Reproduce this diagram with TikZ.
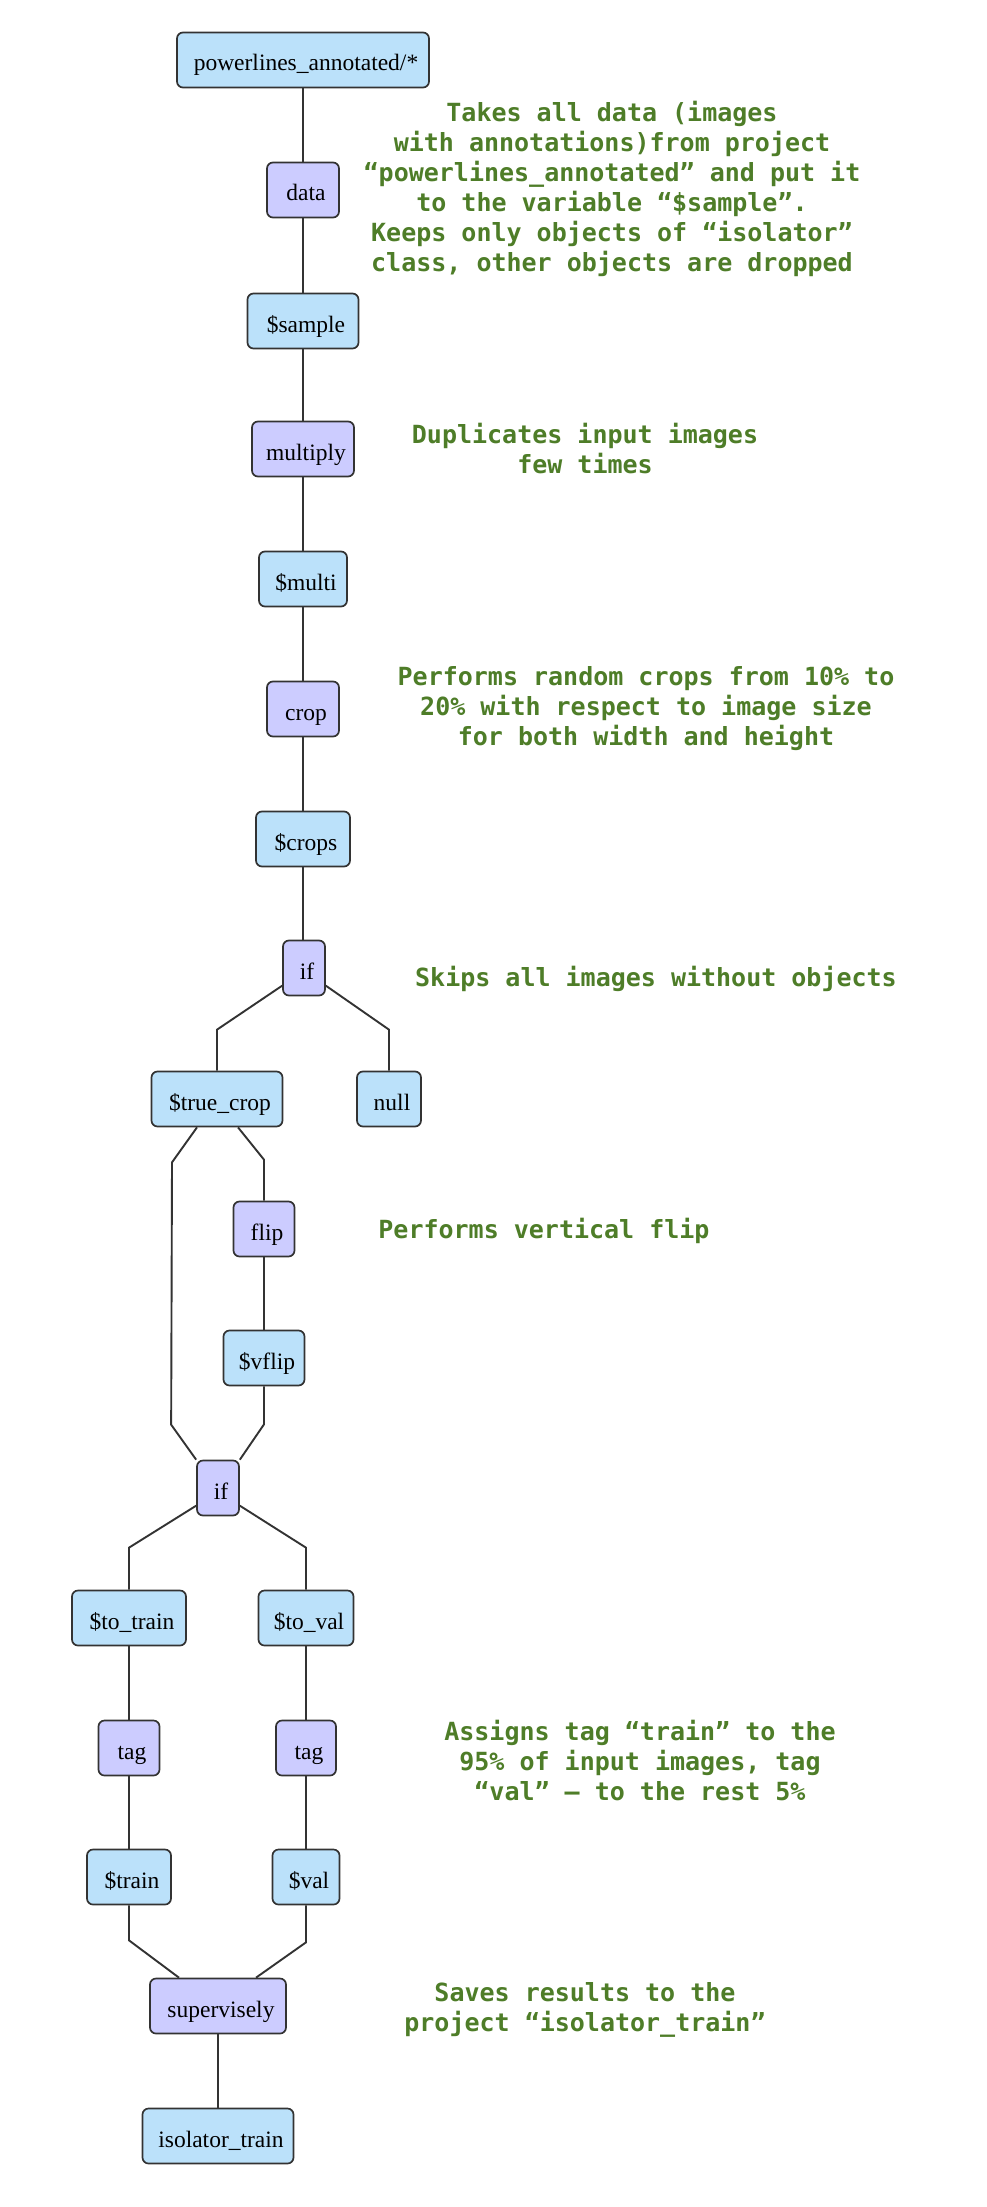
\documentclass[tikz,border=0pt]{standalone}
\usepackage{fontspec}
\setmainfont{Liberation Serif}
\newfontfamily\monob{DejaVu Sans Mono}[BoldFont=* Bold]
\usetikzlibrary{calc}
\definecolor{bluefill}{HTML}{BBE1FA}
\definecolor{purplefill}{HTML}{CCCCFF}
\definecolor{edgecol}{HTML}{333333}
\definecolor{notegreen}{HTML}{4E7D28}
\tikzset{
  base/.style={draw=edgecol, line width=1.7pt, rounded corners=6pt, minimum height=55pt,
    inner xsep=0pt, inner ysep=0pt, text height=24pt, text depth=2pt,
    font=\fontsize{23.5}{28}\selectfont, text=black,
    execute at begin node={\hspace*{6pt}}},
  var/.style={base, fill=bluefill},
  op/.style={base, fill=purplefill},
  note/.style={align=center, text=notegreen, font=\monob\bfseries\fontsize{25}{30}\selectfont},
  conn/.style={draw=edgecol, line width=1.9pt}
}
\begin{document}
\begin{tikzpicture}[x=1pt, y=-1pt]
\useasboundingbox (0,0) rectangle (986,2207);
% nodes
\node[var, minimum width=252pt] (src) at (303,60) {powerlines\_annotated/*};
\node[op, minimum width=72pt] (data) at (303,190) {data};
\node[var, minimum width=111pt] (sample) at (303,321) {\$sample};
\node[op, minimum width=102pt] (multiply) at (303,449) {multiply};
\node[var, minimum width=88pt] (multi) at (303,579) {\$multi};
\node[op, minimum width=72pt] (crop) at (303,709) {crop};
\node[var, minimum width=94pt] (crops) at (303,839) {\$crops};
\node[op, minimum width=42pt] (ifa) at (304,968) {if};
\node[var, minimum width=131pt] (truecrop) at (217,1099) {\$true\_crop};
\node[var, minimum width=64pt] (null) at (389,1099) {null};
\node[op, minimum width=61pt] (flip) at (264,1229) {flip};
\node[var, minimum width=81pt] (vflip) at (264,1358) {\$vflip};
\node[op, minimum width=42pt] (ifb) at (218,1488) {if};
\node[var, minimum width=114pt] (totrain) at (129,1618) {\$to\_train};
\node[var, minimum width=95pt] (toval) at (306,1618) {\$to\_val};
\node[op, minimum width=61pt] (tagA) at (129,1748) {tag};
\node[op, minimum width=60pt] (tagB) at (306,1748) {tag};
\node[var, minimum width=84pt] (train) at (129,1877) {\$train};
\node[var, minimum width=67pt] (val) at (306,1877) {\$val};
\node[op, minimum width=136pt] (superv) at (218,2006) {supervisely};
\node[var, minimum width=151pt] (iso) at (218,2136) {isolator\_train};
% straight connectors
\draw[conn] (src) -- (data);
\draw[conn] (data) -- (sample);
\draw[conn] (sample) -- (multiply);
\draw[conn] (multiply) -- (multi);
\draw[conn] (multi) -- (crop);
\draw[conn] (crop) -- (crops);
\draw[conn] (crops.south) -- (crops.south |- ifa.north);
\draw[conn] (flip) -- (vflip);
\draw[conn] (totrain) -- (tagA);
\draw[conn] (tagA) -- (train);
\draw[conn] (toval) -- (tagB);
\draw[conn] (tagB) -- (val);
\draw[conn] (superv) -- (iso);
% branching connectors
\draw[conn] (ifa.-141) -- ($(truecrop.north)+(0,-41)$) -- (truecrop.north);
\draw[conn] (ifa.-39) -- ($(null.north)+(0,-41)$) -- (null.north);
\draw[conn] ($(truecrop.south)+(21,0)$) -- ($(flip.north)+(0,-41)$) -- (flip.north);
\draw[conn] ($(truecrop.south)+(-20,0)$) -- ++(-25,35) -- ($(ifb.north west)+(-25,-35)$) -- (ifb.north west);
\draw[conn] (vflip.south) -- ++(0,38) -- (ifb.north east);
\draw[conn] (ifb.-141) -- ($(totrain.north)+(0,-42)$) -- (totrain.north);
\draw[conn] (ifb.-39) -- ($(toval.north)+(0,-42)$) -- (toval.north);
\draw[conn] (train.south) -- ++(0,35) -- ($(superv.north)+(-39,0)$);
\draw[conn] (val.south) -- ++(0,37) -- ($(superv.north)+(38,0)$);
% notes
\node[note] (n1) at (612,189) {Takes all data (images\\with annotations)from project\\“powerlines\_annotated” and put it\\to the variable “\$sample”.\\Keeps only objects of “isolator”\\class, other objects are dropped};
\node[note] (n2) at (585,449) {Duplicates input images\\few times};
\node[note] (n3) at (646,709) {Performs random crops from 10\% to\\20\% with respect to image size\\for both width and height};
\node[note] (n4) at (656,979) {Skips all images without objects};
\node[note] (n5) at (544,1231) {Performs vertical flip};
\node[note] (n6) at (640,1760) {Assigns tag “train” to the\\95\% of input images, tag\\“val” – to the rest 5\%};
\node[note] (n7) at (585,2010) {Saves results to the\\project “isolator\_train”};
\end{tikzpicture}
\end{document}
